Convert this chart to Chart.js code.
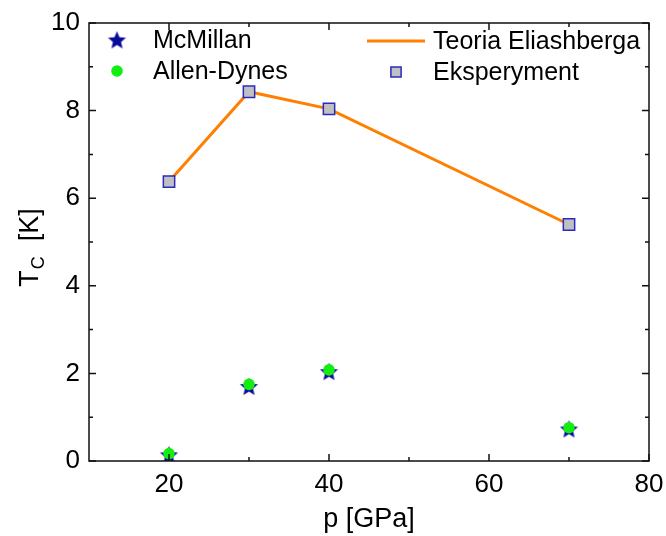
<!DOCTYPE html>
<html lang="pl">
<head>
  <meta charset="UTF-8">
  <title>Tc(p)</title>
  <script src="https://cdn.jsdelivr.net/npm/chart.js"></script>
  <style>
    html, body { margin: 0; padding: 0; background: #fff; }
    canvas { display: block; }
  </style>
</head>
<body>
  <canvas id="wykres" width="666" height="536"></canvas>

  <script>
    // ciśnienie [GPa]
    const cisnienie = [20, 30, 40, 70];
    // Tc [K]
    const tcMcMillan = [0.14, 1.70, 2.04, 0.73];
    const tcAllenDynes = [0.17, 1.75, 2.08, 0.76];
    const tcEliashberg = [6.38, 8.43, 8.04, 5.40];
    const tcEksperyment = [6.38, 8.43, 8.04, 5.40];

    const xTicks = [20, 40, 60, 80];
    const xMinor = [30, 50, 70];
    const yTicks = [0, 2, 4, 6, 8, 10];
    const yMinor = [1, 3, 5, 7, 9];

    const FONT = '"Liberation Sans", Arial, sans-serif';

    // gwiazdka pięcioramienna jako obrazek punktu
    function gwiazdka(r, kolor) {
      const c = document.createElement('canvas');
      const s = Math.ceil(r * 2 + 2);
      c.width = s; c.height = s;
      const g = c.getContext('2d');
      g.translate(s / 2, s / 2 + 0.8);
      g.beginPath();
      for (let i = 0; i < 10; i++) {
        const rr = i % 2 === 0 ? r : r * 0.45;
        const a = -Math.PI / 2 + i * Math.PI / 5;
        g.lineTo(rr * Math.cos(a), rr * Math.sin(a));
      }
      g.closePath();
      g.fillStyle = kolor;
      g.fill();
      return c;
    }
    const star = gwiazdka(9.5, '#0a0a9a');

    const pary = (xs, ys) => xs.map((x, i) => ({x: x, y: ys[i]}));

    const ramka = {
      id: 'ramka',
      afterDatasetsDraw(chart) {
        const {ctx, chartArea: a, scales: {x, y}} = chart;
        ctx.save();
        ctx.strokeStyle = '#111';
        ctx.lineWidth = 1.5;
        ctx.strokeRect(a.left, a.top, a.right - a.left, a.bottom - a.top);
        ctx.beginPath();
        const tickX = (v, len) => {
          const px = x.getPixelForValue(v);
          ctx.moveTo(px, a.bottom); ctx.lineTo(px, a.bottom - len);
          ctx.moveTo(px, a.top); ctx.lineTo(px, a.top + len);
        };
        const tickY = (v, len) => {
          const py = y.getPixelForValue(v);
          ctx.moveTo(a.left, py); ctx.lineTo(a.left + len, py);
          ctx.moveTo(a.right, py); ctx.lineTo(a.right - len, py);
        };
        xTicks.forEach(v => tickX(v, 7));
        xMinor.forEach(v => tickX(v, 4));
        yTicks.forEach(v => tickY(v, 7));
        yMinor.forEach(v => tickY(v, 4));
        ctx.stroke();
        ctx.restore();
      },
      afterDraw(chart) {
        const {ctx} = chart;
        const ds = chart.data.datasets;
        ctx.save();
        ctx.fillStyle = '#000';
        ctx.textBaseline = 'middle';

        // legenda
        const wpis = (d, cx, cy, tx) => {
          if (d.showLine) {
            ctx.strokeStyle = d.borderColor;
            ctx.lineWidth = d.borderWidth;
            ctx.beginPath();
            ctx.moveTo(cx - 29, cy); ctx.lineTo(cx + 29, cy);
            ctx.stroke();
          } else {
            ctx.fillStyle = d.backgroundColor;
            ctx.strokeStyle = d.borderColor;
            ctx.lineWidth = d.borderWidth;
            Chart.helpers.drawPoint(ctx, {pointStyle: d.pointStyle, radius: d.legendRadius, borderWidth: d.borderWidth}, cx, cy);
          }
          ctx.fillStyle = '#000';
          ctx.font = '25px ' + FONT;
          ctx.textAlign = 'left';
          ctx.fillText(d.label, tx, cy + 1);
        };
        wpis(ds[0], 117, 40, 153);
        wpis(ds[1], 117, 71, 153);
        wpis(ds[2], 396, 41, 433);
        wpis(ds[3], 396, 72, 433);

        // opis osi Y z indeksem dolnym
        ctx.translate(31, 248);
        ctx.rotate(-Math.PI / 2);
        const big = '27px ' + FONT, small = '18px ' + FONT;
        ctx.font = big; const wT = ctx.measureText('T').width;
        const wK = ctx.measureText('  [K]').width;
        ctx.font = small; const wC = ctx.measureText('C').width;
        let px = -(wT + wC + wK) / 2;
        ctx.textAlign = 'left';
        ctx.font = big; ctx.fillText('T', px, 0); px += wT + 1;
        ctx.font = small; ctx.fillText('C', px, 8); px += wC;
        ctx.font = big; ctx.fillText('  [K]', px, 0);
        ctx.restore();
      }
    };

    new Chart(document.getElementById('wykres'), {
      type: 'scatter',
      data: {
        datasets: [
          {
            label: 'McMillan',
            data: pary(cisnienie, tcMcMillan),
            pointStyle: star,
            pointRadius: 9,
            legendRadius: 9,
            backgroundColor: '#0a0a9a',
            borderColor: '#0a0a9a',
            borderWidth: 0,
            showLine: false,
            order: 3
          },
          {
            label: 'Allen-Dynes',
            data: pary(cisnienie, tcAllenDynes),
            pointStyle: 'circle',
            pointRadius: 5.8,
            legendRadius: 5.8,
            backgroundColor: '#12ee12',
            borderColor: '#12ee12',
            borderWidth: 0,
            showLine: false,
            order: 2
          },
          {
            label: 'Teoria Eliashberga',
            data: pary(cisnienie, tcEliashberg),
            showLine: true,
            pointRadius: 0,
            borderColor: '#ff8000',
            backgroundColor: '#ff8000',
            borderWidth: 3,
            tension: 0,
            order: 5
          },
          {
            label: 'Eksperyment',
            data: pary(cisnienie, tcEksperyment),
            pointStyle: 'rect',
            pointRadius: 8,
            legendRadius: 7.2,
            backgroundColor: '#c0c0c4',
            borderColor: '#2a2ac0',
            borderWidth: 1.5,
            showLine: false,
            order: 4
          }
        ]
      },
      options: {
        responsive: false,
        animation: false,
        events: [],
        layout: { padding: { top: 23, right: 17, left: 0, bottom: 0 } },
        plugins: { legend: { display: false }, tooltip: { enabled: false } },
        scales: {
          x: {
            type: 'linear',
            min: 10, max: 80,
            afterBuildTicks: s => { s.ticks = xTicks.map(v => ({value: v})); },
            afterFit: s => { s.height = 75; s.paddingLeft = 0; s.paddingRight = 0; },
            grid: { display: false, drawTicks: false },
            border: { display: false },
            ticks: { color: '#000', padding: 8, font: { family: FONT, size: 26 }, maxRotation: 0 },
            title: { display: true, text: 'p [GPa]', color: '#000', font: { family: FONT, size: 27 }, padding: { top: 0, bottom: 0 } }
          },
          y: {
            min: 0, max: 10,
            afterBuildTicks: s => { s.ticks = yTicks.map(v => ({value: v})); },
            afterFit: s => { s.width = 89; s.paddingTop = 0; s.paddingBottom = 0; },
            grid: { display: false, drawTicks: false },
            border: { display: false },
            ticks: { color: '#000', padding: 9, font: { family: FONT, size: 26 } }
          }
        }
      },
      plugins: [ramka]
    });
  </script>
</body>
</html>
